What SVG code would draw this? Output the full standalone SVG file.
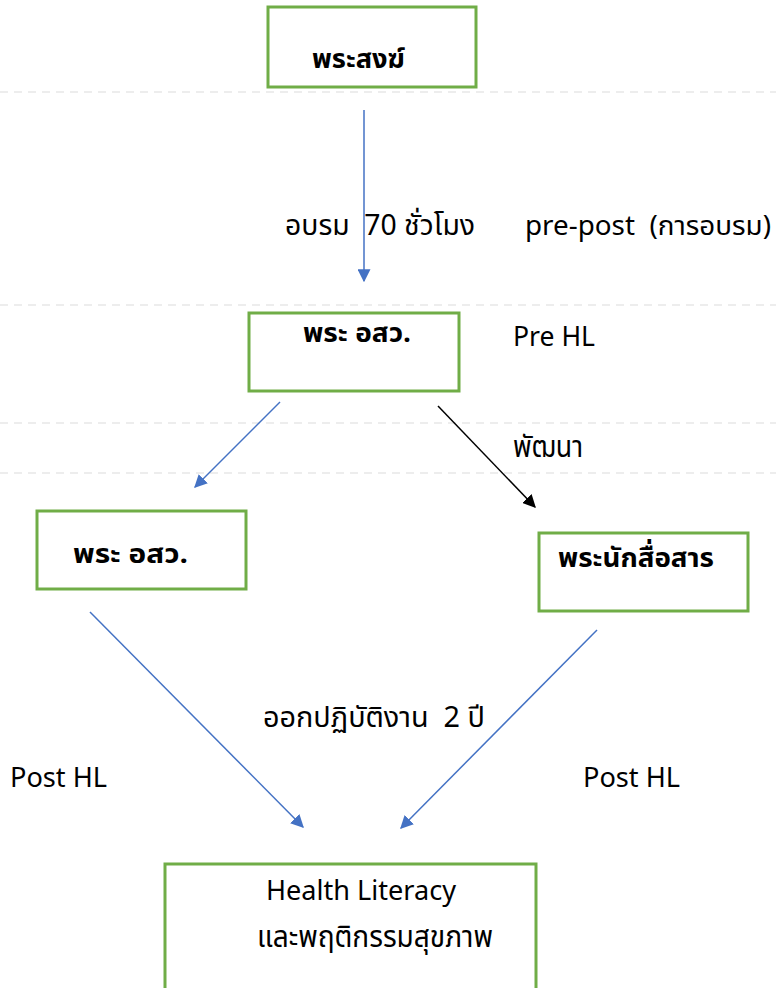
<svg xmlns="http://www.w3.org/2000/svg" width="776" height="988" viewBox="0 0 776 988">
  <defs>
    <style>
      .box { fill: #ffffff; stroke: #70ad47; stroke-width: 3; }
      .guide { stroke: #e8e8e8; stroke-width: 1.5; stroke-dasharray: 8 6; fill: none; }
      .blue { stroke: #4472c4; stroke-width: 1.5; fill: none; }
      .black { stroke: #000000; stroke-width: 1.5; fill: none; }
      text { font-family: "Noto Sans Thai", "Tahoma", "Liberation Sans", "DejaVu Sans", sans-serif; fill: #000000; font-size: 27px; }
      .bold { font-weight: bold; }
      .th { font-size: 31px; }
      .mix { font-size: 29px; }
    </style>
    <marker id="arrowBlue" viewBox="0 0 10 10" refX="9" refY="5" markerWidth="13" markerHeight="13" markerUnits="userSpaceOnUse" orient="auto">
      <path d="M0,0 L10,5 L0,10 z" fill="#4472c4"/>
    </marker>
    <marker id="arrowBlack" viewBox="0 0 10 10" refX="9" refY="5" markerWidth="13" markerHeight="13" markerUnits="userSpaceOnUse" orient="auto">
      <path d="M0,0 L10,5 L0,10 z" fill="#000000"/>
    </marker>
  </defs>

  <rect width="776" height="988" fill="#ffffff"/>

  <!-- faint page guides -->
  <g id="guides">
    <line class="guide" x1="0" y1="92" x2="776" y2="92"/>
    <line class="guide" x1="0" y1="305" x2="776" y2="305"/>
    <line class="guide" x1="0" y1="423" x2="776" y2="423" stroke-dasharray="none"/>
    <line class="guide" x1="0" y1="473" x2="776" y2="473"/>
  </g>

  <!-- connectors -->
  <g id="connectors">
    <line class="blue" x1="364" y1="110" x2="364" y2="281" marker-end="url(#arrowBlue)"/>
    <line class="blue" x1="280" y1="402" x2="195" y2="487" marker-end="url(#arrowBlue)"/>
    <line class="black" x1="438" y1="406" x2="535" y2="507" marker-end="url(#arrowBlack)"/>
    <line class="blue" x1="90" y1="612" x2="303" y2="827" marker-end="url(#arrowBlue)"/>
    <line class="blue" x1="597" y1="630" x2="401" y2="828" marker-end="url(#arrowBlue)"/>
  </g>

  <g id="node-sangha">
    <rect class="box" x="268" y="7" width="208" height="80"/>
    <text class="bold" x="312" y="68" font-size="34" textLength="93" lengthAdjust="spacingAndGlyphs">พระสงฆ์</text>
  </g>

  <g id="node-aosw-top">
    <rect class="box" x="249" y="313" width="210" height="78"/>
    <text class="bold" x="303" y="342" font-size="32" textLength="108" lengthAdjust="spacingAndGlyphs">พระ อสว.</text>
  </g>

  <g id="node-aosw-left">
    <rect class="box" x="37" y="511" width="209" height="78"/>
    <text class="bold" x="73" y="563" font-size="33" textLength="115" lengthAdjust="spacingAndGlyphs">พระ อสว.</text>
  </g>

  <g id="node-communicator">
    <rect class="box" x="539" y="533" width="209" height="78"/>
    <text class="bold" x="558" y="567" font-size="32" textLength="156" lengthAdjust="spacingAndGlyphs">พระนักสื่อสาร</text>
  </g>

  <g id="node-outcome">
    <rect class="box" x="165" y="864" width="371" height="130"/>
    <text x="266" y="900" textLength="190" lengthAdjust="spacingAndGlyphs">Health Literacy</text>
    <text class="th" x="257" y="947" textLength="236" lengthAdjust="spacingAndGlyphs">และพฤติกรรมสุขภาพ</text>
  </g>

  <!-- labels -->
  <g id="labels">
    <text class="mix" x="285" y="235" xml:space="preserve" textLength="190" lengthAdjust="spacingAndGlyphs">อบรม  70 ชั่วโมง</text>
    <text x="525" y="235" xml:space="preserve" textLength="246" lengthAdjust="spacingAndGlyphs">pre-post  (การอบรม)</text>
    <text x="513" y="346" textLength="82" lengthAdjust="spacingAndGlyphs">Pre HL</text>
    <text class="th" x="513" y="457" textLength="70" lengthAdjust="spacingAndGlyphs">พัฒนา</text>
    <text class="mix" x="263" y="727" xml:space="preserve" textLength="222" lengthAdjust="spacingAndGlyphs">ออกปฏิบัติงาน  2 ปี</text>
    <text x="10" y="787" textLength="97" lengthAdjust="spacingAndGlyphs">Post HL</text>
    <text x="583" y="787" textLength="97" lengthAdjust="spacingAndGlyphs">Post HL</text>
  </g>
</svg>
